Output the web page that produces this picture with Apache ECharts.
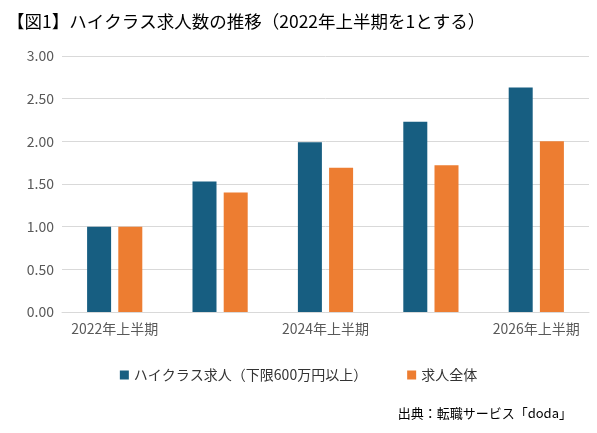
<!DOCTYPE html>
<html>
<head>
<meta charset="utf-8">
<script src="https://cdn.jsdelivr.net/npm/echarts@6/dist/echarts.min.js"></script>
<style>
  html, body { margin:0; padding:0; background:#fff; }
  #main { width:597px; height:433px; }
</style>
</head>
<body>
<div id="main"></div>
<script>
  var categories = ['2022年上半期', '2023年上半期', '2024年上半期', '2025年上半期', '2026年上半期'];
  var highClass = [1.00, 1.53, 1.99, 2.23, 2.63];
  var allJobs = [1.00, 1.40, 1.69, 1.72, 2.00];
  var seriesNames = ['ハイクラス求人（下限600万円以上）', '求人全体'];

  var font = '"Noto Sans CJK JP", sans-serif';
  var myChart = echarts.init(document.getElementById('main'));
  myChart.setOption({
    animation: false,
    textStyle: { fontFamily: font },
    color: ['#175e81', '#ed7d31'],
    title: [{
      text: '【図1】ハイクラス求人数の推移（2022年上半期を1とする）',
      left: 2, top: 8,
      textStyle: { fontSize: 17.5, fontWeight: 'normal', color: '#000', fontFamily: font }
    }, {
      text: '出典：転職サービス「doda」',
      right: 20, top: 402,
      textStyle: { fontSize: 13, fontWeight: 'normal', color: '#000', fontFamily: font }
    }],
    legend: {
      top: 363, left: 'center', itemGap: 40,
      itemWidth: 9, itemHeight: 9, icon: 'rect',
      textStyle: { fontSize: 14, color: '#333' },
      data: seriesNames
    },
    grid: { left: 62, right: 8, top: 56, bottom: 121 },
    xAxis: {
      type: 'category', data: categories,
      axisLine: { lineStyle: { color: '#d9d9d9' } },
      axisTick: { show: false },
      axisLabel: { color: '#595959', fontSize: 14, margin: 10 }
    },
    yAxis: {
      type: 'value', min: 0, max: 3, interval: 0.5,
      axisLine: { show: false }, axisTick: { show: false },
      axisLabel: { color: '#595959', fontSize: 14, formatter: function (v) { return v.toFixed(2); } },
      splitLine: { lineStyle: { color: '#d9d9d9' } }
    },
    series: [
      { name: seriesNames[0], type: 'bar', data: highClass, barWidth: 24, barGap: '30%' },
      { name: seriesNames[1], type: 'bar', data: allJobs, barWidth: 24 }
    ]
  });
</script>
</body>
</html>
